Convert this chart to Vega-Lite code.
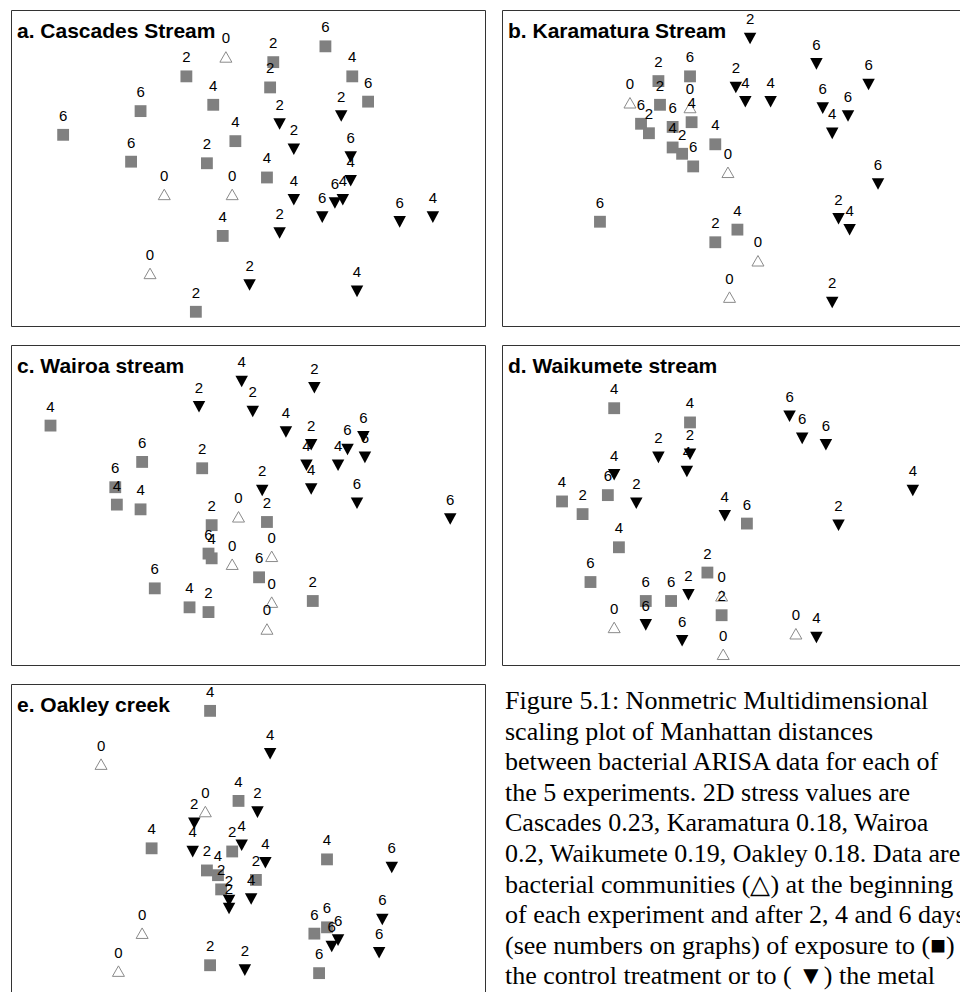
{
  "$schema": "https://vega.github.io/schema/vega-lite/v6.json",
  "background": "white",
  "padding": {"left": 10, "top": 9, "right": 5, "bottom": 5},
  "config": {
    "view": {"stroke": "#333333", "strokeWidth": 1},
    "title": {
      "anchor": "start",
      "frame": "group",
      "orient": "top",
      "offset": -32,
      "baseline": "alphabetic",
      "dx": 6,
      "font": "Liberation Sans",
      "fontSize": 21,
      "fontWeight": "bold",
      "color": "#000000"
    },
    "text": {"font": "Liberation Sans", "fontSize": 15, "color": "#000000"}
  },
  "datasets": {
    "nmds": [
      {"panel": "a", "treatment": "start", "day": 0, "nmds1": -0.14, "nmds2": 0.70},
      {"panel": "a", "treatment": "start", "day": 0, "nmds1": -0.53, "nmds2": -0.17},
      {"panel": "a", "treatment": "start", "day": 0, "nmds1": -0.10, "nmds2": -0.17},
      {"panel": "a", "treatment": "start", "day": 0, "nmds1": -0.62, "nmds2": -0.67},
      {"panel": "a", "treatment": "control", "day": 2, "nmds1": 0.16, "nmds2": 0.67},
      {"panel": "a", "treatment": "control", "day": 6, "nmds1": 0.49, "nmds2": 0.77},
      {"panel": "a", "treatment": "control", "day": 2, "nmds1": -0.39, "nmds2": 0.58},
      {"panel": "a", "treatment": "control", "day": 4, "nmds1": 0.66, "nmds2": 0.58},
      {"panel": "a", "treatment": "control", "day": 2, "nmds1": 0.14, "nmds2": 0.51},
      {"panel": "a", "treatment": "control", "day": 6, "nmds1": 0.76, "nmds2": 0.42},
      {"panel": "a", "treatment": "control", "day": 4, "nmds1": -0.22, "nmds2": 0.40},
      {"panel": "a", "treatment": "control", "day": 6, "nmds1": -0.68, "nmds2": 0.36},
      {"panel": "a", "treatment": "control", "day": 6, "nmds1": -1.17, "nmds2": 0.21},
      {"panel": "a", "treatment": "control", "day": 4, "nmds1": -0.08, "nmds2": 0.17},
      {"panel": "a", "treatment": "control", "day": 6, "nmds1": -0.74, "nmds2": 0.04},
      {"panel": "a", "treatment": "control", "day": 2, "nmds1": -0.26, "nmds2": 0.03},
      {"panel": "a", "treatment": "control", "day": 4, "nmds1": 0.12, "nmds2": -0.06},
      {"panel": "a", "treatment": "control", "day": 4, "nmds1": -0.16, "nmds2": -0.43},
      {"panel": "a", "treatment": "control", "day": 2, "nmds1": -0.33, "nmds2": -0.91},
      {"panel": "a", "treatment": "metal", "day": 2, "nmds1": 0.59, "nmds2": 0.33},
      {"panel": "a", "treatment": "metal", "day": 2, "nmds1": 0.20, "nmds2": 0.28},
      {"panel": "a", "treatment": "metal", "day": 2, "nmds1": 0.29, "nmds2": 0.12},
      {"panel": "a", "treatment": "metal", "day": 6, "nmds1": 0.65, "nmds2": 0.07},
      {"panel": "a", "treatment": "metal", "day": 4, "nmds1": 0.65, "nmds2": -0.08},
      {"panel": "a", "treatment": "metal", "day": 4, "nmds1": 0.29, "nmds2": -0.20},
      {"panel": "a", "treatment": "metal", "day": 6, "nmds1": 0.55, "nmds2": -0.22},
      {"panel": "a", "treatment": "metal", "day": 4, "nmds1": 0.60, "nmds2": -0.20},
      {"panel": "a", "treatment": "metal", "day": 6, "nmds1": 0.47, "nmds2": -0.31},
      {"panel": "a", "treatment": "metal", "day": 6, "nmds1": 0.96, "nmds2": -0.34},
      {"panel": "a", "treatment": "metal", "day": 4, "nmds1": 1.17, "nmds2": -0.31},
      {"panel": "a", "treatment": "metal", "day": 2, "nmds1": 0.20, "nmds2": -0.41},
      {"panel": "a", "treatment": "metal", "day": 2, "nmds1": 0.01, "nmds2": -0.74},
      {"panel": "a", "treatment": "metal", "day": 4, "nmds1": 0.69, "nmds2": -0.78},

      {"panel": "b", "treatment": "start", "day": 0, "nmds1": -0.69, "nmds2": 0.41},
      {"panel": "b", "treatment": "start", "day": 0, "nmds1": -0.31, "nmds2": 0.38},
      {"panel": "b", "treatment": "start", "day": 0, "nmds1": -0.07, "nmds2": -0.03},
      {"panel": "b", "treatment": "start", "day": 0, "nmds1": 0.12, "nmds2": -0.59},
      {"panel": "b", "treatment": "start", "day": 0, "nmds1": -0.06, "nmds2": -0.82},
      {"panel": "b", "treatment": "control", "day": 2, "nmds1": -0.51, "nmds2": 0.55},
      {"panel": "b", "treatment": "control", "day": 6, "nmds1": -0.31, "nmds2": 0.58},
      {"panel": "b", "treatment": "control", "day": 2, "nmds1": -0.50, "nmds2": 0.40},
      {"panel": "b", "treatment": "control", "day": 6, "nmds1": -0.62, "nmds2": 0.28},
      {"panel": "b", "treatment": "control", "day": 2, "nmds1": -0.57, "nmds2": 0.22},
      {"panel": "b", "treatment": "control", "day": 6, "nmds1": -0.42, "nmds2": 0.26},
      {"panel": "b", "treatment": "control", "day": 4, "nmds1": -0.30, "nmds2": 0.29},
      {"panel": "b", "treatment": "control", "day": 4, "nmds1": -0.15, "nmds2": 0.15},
      {"panel": "b", "treatment": "control", "day": 4, "nmds1": -0.42, "nmds2": 0.13},
      {"panel": "b", "treatment": "control", "day": 2, "nmds1": -0.36, "nmds2": 0.09},
      {"panel": "b", "treatment": "control", "day": 6, "nmds1": -0.29, "nmds2": 0.01},
      {"panel": "b", "treatment": "control", "day": 6, "nmds1": -0.88, "nmds2": -0.34},
      {"panel": "b", "treatment": "control", "day": 4, "nmds1": -0.01, "nmds2": -0.39},
      {"panel": "b", "treatment": "control", "day": 2, "nmds1": -0.15, "nmds2": -0.47},
      {"panel": "b", "treatment": "metal", "day": 2, "nmds1": 0.07, "nmds2": 0.82},
      {"panel": "b", "treatment": "metal", "day": 6, "nmds1": 0.49, "nmds2": 0.66},
      {"panel": "b", "treatment": "metal", "day": 6, "nmds1": 0.82, "nmds2": 0.53},
      {"panel": "b", "treatment": "metal", "day": 2, "nmds1": -0.02, "nmds2": 0.51},
      {"panel": "b", "treatment": "metal", "day": 4, "nmds1": 0.04, "nmds2": 0.42},
      {"panel": "b", "treatment": "metal", "day": 4, "nmds1": 0.20, "nmds2": 0.42},
      {"panel": "b", "treatment": "metal", "day": 6, "nmds1": 0.53, "nmds2": 0.38},
      {"panel": "b", "treatment": "metal", "day": 6, "nmds1": 0.69, "nmds2": 0.33},
      {"panel": "b", "treatment": "metal", "day": 4, "nmds1": 0.59, "nmds2": 0.22},
      {"panel": "b", "treatment": "metal", "day": 6, "nmds1": 0.88, "nmds2": -0.10},
      {"panel": "b", "treatment": "metal", "day": 2, "nmds1": 0.63, "nmds2": -0.32},
      {"panel": "b", "treatment": "metal", "day": 4, "nmds1": 0.70, "nmds2": -0.39},
      {"panel": "b", "treatment": "metal", "day": 2, "nmds1": 0.59, "nmds2": -0.85},

      {"panel": "c", "treatment": "start", "day": 0, "nmds1": -0.06, "nmds2": -0.09},
      {"panel": "c", "treatment": "start", "day": 0, "nmds1": 0.15, "nmds2": -0.34},
      {"panel": "c", "treatment": "start", "day": 0, "nmds1": -0.10, "nmds2": -0.39},
      {"panel": "c", "treatment": "start", "day": 0, "nmds1": 0.15, "nmds2": -0.63},
      {"panel": "c", "treatment": "start", "day": 0, "nmds1": 0.12, "nmds2": -0.80},
      {"panel": "c", "treatment": "control", "day": 4, "nmds1": -1.25, "nmds2": 0.49},
      {"panel": "c", "treatment": "control", "day": 6, "nmds1": -0.67, "nmds2": 0.26},
      {"panel": "c", "treatment": "control", "day": 2, "nmds1": -0.29, "nmds2": 0.22},
      {"panel": "c", "treatment": "control", "day": 6, "nmds1": -0.84, "nmds2": 0.10},
      {"panel": "c", "treatment": "control", "day": 4, "nmds1": -0.83, "nmds2": -0.01},
      {"panel": "c", "treatment": "control", "day": 4, "nmds1": -0.68, "nmds2": -0.04},
      {"panel": "c", "treatment": "control", "day": 2, "nmds1": -0.23, "nmds2": -0.14},
      {"panel": "c", "treatment": "control", "day": 2, "nmds1": 0.12, "nmds2": -0.12},
      {"panel": "c", "treatment": "control", "day": 6, "nmds1": -0.25, "nmds2": -0.32},
      {"panel": "c", "treatment": "control", "day": 4, "nmds1": -0.23, "nmds2": -0.35},
      {"panel": "c", "treatment": "control", "day": 6, "nmds1": 0.07, "nmds2": -0.47},
      {"panel": "c", "treatment": "control", "day": 6, "nmds1": -0.59, "nmds2": -0.54},
      {"panel": "c", "treatment": "control", "day": 4, "nmds1": -0.37, "nmds2": -0.66},
      {"panel": "c", "treatment": "control", "day": 2, "nmds1": -0.25, "nmds2": -0.69},
      {"panel": "c", "treatment": "control", "day": 2, "nmds1": 0.41, "nmds2": -0.62},
      {"panel": "c", "treatment": "metal", "day": 4, "nmds1": -0.04, "nmds2": 0.77},
      {"panel": "c", "treatment": "metal", "day": 2, "nmds1": 0.42, "nmds2": 0.73},
      {"panel": "c", "treatment": "metal", "day": 2, "nmds1": -0.31, "nmds2": 0.61},
      {"panel": "c", "treatment": "metal", "day": 2, "nmds1": 0.03, "nmds2": 0.58},
      {"panel": "c", "treatment": "metal", "day": 4, "nmds1": 0.24, "nmds2": 0.45},
      {"panel": "c", "treatment": "metal", "day": 2, "nmds1": 0.40, "nmds2": 0.37},
      {"panel": "c", "treatment": "metal", "day": 6, "nmds1": 0.73, "nmds2": 0.42},
      {"panel": "c", "treatment": "metal", "day": 6, "nmds1": 0.63, "nmds2": 0.34},
      {"panel": "c", "treatment": "metal", "day": 6, "nmds1": 0.74, "nmds2": 0.29},
      {"panel": "c", "treatment": "metal", "day": 4, "nmds1": 0.37, "nmds2": 0.24},
      {"panel": "c", "treatment": "metal", "day": 4, "nmds1": 0.57, "nmds2": 0.24},
      {"panel": "c", "treatment": "metal", "day": 4, "nmds1": 0.40, "nmds2": 0.09},
      {"panel": "c", "treatment": "metal", "day": 2, "nmds1": 0.09, "nmds2": 0.08},
      {"panel": "c", "treatment": "metal", "day": 6, "nmds1": 0.69, "nmds2": 0.00},
      {"panel": "c", "treatment": "metal", "day": 6, "nmds1": 1.28, "nmds2": -0.10},

      {"panel": "d", "treatment": "start", "day": 0, "nmds1": -0.11, "nmds2": -0.59},
      {"panel": "d", "treatment": "start", "day": 0, "nmds1": -0.79, "nmds2": -0.79},
      {"panel": "d", "treatment": "start", "day": 0, "nmds1": 0.36, "nmds2": -0.83},
      {"panel": "d", "treatment": "start", "day": 0, "nmds1": -0.10, "nmds2": -0.96},
      {"panel": "d", "treatment": "control", "day": 4, "nmds1": -0.79, "nmds2": 0.60},
      {"panel": "d", "treatment": "control", "day": 4, "nmds1": -0.31, "nmds2": 0.51},
      {"panel": "d", "treatment": "control", "day": 4, "nmds1": -1.12, "nmds2": 0.01},
      {"panel": "d", "treatment": "control", "day": 2, "nmds1": -0.99, "nmds2": -0.07},
      {"panel": "d", "treatment": "control", "day": 6, "nmds1": -0.83, "nmds2": 0.05},
      {"panel": "d", "treatment": "control", "day": 6, "nmds1": 0.05, "nmds2": -0.13},
      {"panel": "d", "treatment": "control", "day": 4, "nmds1": -0.76, "nmds2": -0.28},
      {"panel": "d", "treatment": "control", "day": 6, "nmds1": -0.94, "nmds2": -0.50},
      {"panel": "d", "treatment": "control", "day": 2, "nmds1": -0.20, "nmds2": -0.44},
      {"panel": "d", "treatment": "control", "day": 6, "nmds1": -0.59, "nmds2": -0.62},
      {"panel": "d", "treatment": "control", "day": 6, "nmds1": -0.43, "nmds2": -0.62},
      {"panel": "d", "treatment": "control", "day": 2, "nmds1": -0.11, "nmds2": -0.71},
      {"panel": "d", "treatment": "metal", "day": 6, "nmds1": 0.32, "nmds2": 0.55},
      {"panel": "d", "treatment": "metal", "day": 6, "nmds1": 0.40, "nmds2": 0.41},
      {"panel": "d", "treatment": "metal", "day": 6, "nmds1": 0.55, "nmds2": 0.37},
      {"panel": "d", "treatment": "metal", "day": 2, "nmds1": -0.51, "nmds2": 0.29},
      {"panel": "d", "treatment": "metal", "day": 2, "nmds1": -0.31, "nmds2": 0.31},
      {"panel": "d", "treatment": "metal", "day": 4, "nmds1": -0.33, "nmds2": 0.20},
      {"panel": "d", "treatment": "metal", "day": 4, "nmds1": -0.79, "nmds2": 0.18},
      {"panel": "d", "treatment": "metal", "day": 2, "nmds1": -0.65, "nmds2": 0.00},
      {"panel": "d", "treatment": "metal", "day": 4, "nmds1": 1.10, "nmds2": 0.08},
      {"panel": "d", "treatment": "metal", "day": 4, "nmds1": -0.09, "nmds2": -0.08},
      {"panel": "d", "treatment": "metal", "day": 2, "nmds1": 0.63, "nmds2": -0.14},
      {"panel": "d", "treatment": "metal", "day": 2, "nmds1": -0.32, "nmds2": -0.58},
      {"panel": "d", "treatment": "metal", "day": 6, "nmds1": -0.59, "nmds2": -0.77},
      {"panel": "d", "treatment": "metal", "day": 6, "nmds1": -0.36, "nmds2": -0.87},
      {"panel": "d", "treatment": "metal", "day": 4, "nmds1": 0.49, "nmds2": -0.85},

      {"panel": "e", "treatment": "start", "day": 0, "nmds1": -0.93, "nmds2": 0.49},
      {"panel": "e", "treatment": "start", "day": 0, "nmds1": -0.27, "nmds2": 0.19},
      {"panel": "e", "treatment": "start", "day": 0, "nmds1": -0.67, "nmds2": -0.58},
      {"panel": "e", "treatment": "start", "day": 0, "nmds1": -0.82, "nmds2": -0.82},
      {"panel": "e", "treatment": "control", "day": 4, "nmds1": -0.24, "nmds2": 0.83},
      {"panel": "e", "treatment": "control", "day": 4, "nmds1": -0.06, "nmds2": 0.26},
      {"panel": "e", "treatment": "control", "day": 4, "nmds1": -0.61, "nmds2": -0.04},
      {"panel": "e", "treatment": "control", "day": 2, "nmds1": -0.10, "nmds2": -0.06},
      {"panel": "e", "treatment": "control", "day": 2, "nmds1": -0.26, "nmds2": -0.18},
      {"panel": "e", "treatment": "control", "day": 4, "nmds1": -0.19, "nmds2": -0.21},
      {"panel": "e", "treatment": "control", "day": 2, "nmds1": -0.17, "nmds2": -0.30},
      {"panel": "e", "treatment": "control", "day": 2, "nmds1": 0.05, "nmds2": -0.24},
      {"panel": "e", "treatment": "control", "day": 4, "nmds1": 0.50, "nmds2": -0.11},
      {"panel": "e", "treatment": "control", "day": 6, "nmds1": 0.42, "nmds2": -0.58},
      {"panel": "e", "treatment": "control", "day": 6, "nmds1": 0.50, "nmds2": -0.54},
      {"panel": "e", "treatment": "control", "day": 2, "nmds1": -0.24, "nmds2": -0.78},
      {"panel": "e", "treatment": "control", "day": 6, "nmds1": 0.45, "nmds2": -0.83},
      {"panel": "e", "treatment": "metal", "day": 4, "nmds1": 0.14, "nmds2": 0.56},
      {"panel": "e", "treatment": "metal", "day": 2, "nmds1": 0.06, "nmds2": 0.19},
      {"panel": "e", "treatment": "metal", "day": 2, "nmds1": -0.34, "nmds2": 0.12},
      {"panel": "e", "treatment": "metal", "day": 4, "nmds1": -0.04, "nmds2": -0.02},
      {"panel": "e", "treatment": "metal", "day": 4, "nmds1": -0.35, "nmds2": -0.06},
      {"panel": "e", "treatment": "metal", "day": 4, "nmds1": 0.11, "nmds2": -0.13},
      {"panel": "e", "treatment": "metal", "day": 6, "nmds1": 0.91, "nmds2": -0.16},
      {"panel": "e", "treatment": "metal", "day": 2, "nmds1": -0.12, "nmds2": -0.37},
      {"panel": "e", "treatment": "metal", "day": 2, "nmds1": -0.12, "nmds2": -0.42},
      {"panel": "e", "treatment": "metal", "day": 4, "nmds1": 0.02, "nmds2": -0.36},
      {"panel": "e", "treatment": "metal", "day": 6, "nmds1": 0.85, "nmds2": -0.49},
      {"panel": "e", "treatment": "metal", "day": 6, "nmds1": 0.57, "nmds2": -0.62},
      {"panel": "e", "treatment": "metal", "day": 6, "nmds1": 0.53, "nmds2": -0.66},
      {"panel": "e", "treatment": "metal", "day": 6, "nmds1": 0.83, "nmds2": -0.70},
      {"panel": "e", "treatment": "metal", "day": 2, "nmds1": -0.02, "nmds2": -0.81}
    ],
    "caption": [
      {"line": 1, "text": "Figure 5.1: Nonmetric Multidimensional"},
      {"line": 2, "text": "scaling plot of Manhattan distances"},
      {"line": 3, "text": "between bacterial ARISA data for each of"},
      {"line": 4, "text": "the 5 experiments. 2D stress values are"},
      {"line": 5, "text": "Cascades 0.23, Karamatura 0.18, Wairoa"},
      {"line": 6, "text": "0.2, Waikumete 0.19, Oakley 0.18. Data are"},
      {"line": 7, "text": "bacterial communities (△) at the beginning"},
      {"line": 8, "text": "of each experiment and after 2, 4 and 6 days"},
      {"line": 9, "text": "(see numbers on graphs) of exposure to (■)"},
      {"line": 10, "text": "the control treatment or to ( ▼) the metal"}
    ]
  },
  "data": {"name": "nmds"},
  "spacing": 17,
  "vconcat": [
    {
      "spacing": 15,
      "hconcat": [
        {
          "title": "a. Cascades Stream",
          "width": 474, "height": 316,
          "transform": [{"filter": "datum.panel === 'a'"}],
          "encoding": {
            "x": {"field": "nmds1", "type": "quantitative", "scale": {"domain": [-1.5, 1.5], "nice": false, "zero": false}, "axis": null},
            "y": {"field": "nmds2", "type": "quantitative", "scale": {"domain": [-1, 1], "nice": false, "zero": false}, "axis": null}
          },
          "layer": [
            {"transform": [{"filter": "datum.treatment === 'start'"}], "mark": {"type": "point", "shape": "M0,-0.95L1,0.8L-1,0.8Z", "size": 144, "filled": false, "stroke": "#8a8a8a", "strokeWidth": 1, "opacity": 1}},
            {"transform": [{"filter": "datum.treatment === 'control'"}], "mark": {"type": "square", "size": 140, "color": "#808080", "opacity": 1}},
            {"transform": [{"filter": "datum.treatment === 'metal'"}], "mark": {"type": "point", "shape": "M-1,-0.9L1,-0.9L0,0.95Z", "size": 156, "filled": true, "color": "#000000", "opacity": 1}},
            {"mark": {"type": "text", "dy": -14, "baseline": "alphabetic", "fontSize": 15}, "encoding": {"text": {"field": "day", "type": "nominal"}}}
          ]
        },
        {
          "title": "b. Karamatura Stream",
          "width": 474, "height": 316,
          "transform": [{"filter": "datum.panel === 'b'"}],
          "encoding": {
            "x": {"field": "nmds1", "type": "quantitative", "scale": {"domain": [-1.5, 1.5], "nice": false, "zero": false}, "axis": null},
            "y": {"field": "nmds2", "type": "quantitative", "scale": {"domain": [-1, 1], "nice": false, "zero": false}, "axis": null}
          },
          "layer": [
            {"transform": [{"filter": "datum.treatment === 'start'"}], "mark": {"type": "point", "shape": "M0,-0.95L1,0.8L-1,0.8Z", "size": 144, "filled": false, "stroke": "#8a8a8a", "strokeWidth": 1, "opacity": 1}},
            {"transform": [{"filter": "datum.treatment === 'control'"}], "mark": {"type": "square", "size": 140, "color": "#808080", "opacity": 1}},
            {"transform": [{"filter": "datum.treatment === 'metal'"}], "mark": {"type": "point", "shape": "M-1,-0.9L1,-0.9L0,0.95Z", "size": 156, "filled": true, "color": "#000000", "opacity": 1}},
            {"mark": {"type": "text", "dy": -14, "baseline": "alphabetic", "fontSize": 15}, "encoding": {"text": {"field": "day", "type": "nominal"}}}
          ]
        }
      ]
    },
    {
      "spacing": 15,
      "hconcat": [
        {
          "title": "c. Wairoa stream",
          "width": 474, "height": 320,
          "transform": [{"filter": "datum.panel === 'c'"}],
          "encoding": {
            "x": {"field": "nmds1", "type": "quantitative", "scale": {"domain": [-1.5, 1.5], "nice": false, "zero": false}, "axis": null},
            "y": {"field": "nmds2", "type": "quantitative", "scale": {"domain": [-1.025, 1], "nice": false, "zero": false}, "axis": null}
          },
          "layer": [
            {"transform": [{"filter": "datum.treatment === 'start'"}], "mark": {"type": "point", "shape": "M0,-0.95L1,0.8L-1,0.8Z", "size": 144, "filled": false, "stroke": "#8a8a8a", "strokeWidth": 1, "opacity": 1}},
            {"transform": [{"filter": "datum.treatment === 'control'"}], "mark": {"type": "square", "size": 140, "color": "#808080", "opacity": 1}},
            {"transform": [{"filter": "datum.treatment === 'metal'"}], "mark": {"type": "point", "shape": "M-1,-0.9L1,-0.9L0,0.95Z", "size": 156, "filled": true, "color": "#000000", "opacity": 1}},
            {"mark": {"type": "text", "dy": -14, "baseline": "alphabetic", "fontSize": 15}, "encoding": {"text": {"field": "day", "type": "nominal"}}}
          ]
        },
        {
          "title": "d. Waikumete stream",
          "width": 474, "height": 320,
          "transform": [{"filter": "datum.panel === 'd'"}],
          "encoding": {
            "x": {"field": "nmds1", "type": "quantitative", "scale": {"domain": [-1.5, 1.5], "nice": false, "zero": false}, "axis": null},
            "y": {"field": "nmds2", "type": "quantitative", "scale": {"domain": [-1.025, 1], "nice": false, "zero": false}, "axis": null}
          },
          "layer": [
            {"transform": [{"filter": "datum.treatment === 'start'"}], "mark": {"type": "point", "shape": "M0,-0.95L1,0.8L-1,0.8Z", "size": 144, "filled": false, "stroke": "#8a8a8a", "strokeWidth": 1, "opacity": 1}},
            {"transform": [{"filter": "datum.treatment === 'control'"}], "mark": {"type": "square", "size": 140, "color": "#808080", "opacity": 1}},
            {"transform": [{"filter": "datum.treatment === 'metal'"}], "mark": {"type": "point", "shape": "M-1,-0.9L1,-0.9L0,0.95Z", "size": 156, "filled": true, "color": "#000000", "opacity": 1}},
            {"mark": {"type": "text", "dy": -14, "baseline": "alphabetic", "fontSize": 15}, "encoding": {"text": {"field": "day", "type": "nominal"}}}
          ]
        }
      ]
    },
    {
      "spacing": 15,
      "hconcat": [
        {
          "title": "e. Oakley creek",
          "width": 474, "height": 316,
          "transform": [{"filter": "datum.panel === 'e'"}],
          "encoding": {
            "x": {"field": "nmds1", "type": "quantitative", "scale": {"domain": [-1.5, 1.5], "nice": false, "zero": false}, "axis": null},
            "y": {"field": "nmds2", "type": "quantitative", "scale": {"domain": [-1, 1], "nice": false, "zero": false}, "axis": null}
          },
          "layer": [
            {"transform": [{"filter": "datum.treatment === 'start'"}], "mark": {"type": "point", "shape": "M0,-0.95L1,0.8L-1,0.8Z", "size": 144, "filled": false, "stroke": "#8a8a8a", "strokeWidth": 1, "opacity": 1}},
            {"transform": [{"filter": "datum.treatment === 'control'"}], "mark": {"type": "square", "size": 140, "color": "#808080", "opacity": 1}},
            {"transform": [{"filter": "datum.treatment === 'metal'"}], "mark": {"type": "point", "shape": "M-1,-0.9L1,-0.9L0,0.95Z", "size": 156, "filled": true, "color": "#000000", "opacity": 1}},
            {"mark": {"type": "text", "dy": -14, "baseline": "alphabetic", "fontSize": 15}, "encoding": {"text": {"field": "day", "type": "nominal"}}}
          ]
        },
        {
          "width": 474, "height": 316,
          "view": {"stroke": null},
          "data": {"name": "caption"},
          "mark": {"type": "text", "align": "left", "baseline": "alphabetic", "font": "Liberation Serif", "fontSize": 26, "dx": 4, "dy": -5.6, "color": "#000000"},
          "encoding": {
            "x": {"datum": 0, "type": "quantitative", "scale": {"domain": [0, 1]}, "axis": null},
            "y": {"field": "line", "type": "quantitative", "scale": {"domain": [0, 10.327], "reverse": true, "nice": false, "zero": false}, "axis": null},
            "text": {"field": "text", "type": "nominal"}
          }
        }
      ]
    }
  ]
}
